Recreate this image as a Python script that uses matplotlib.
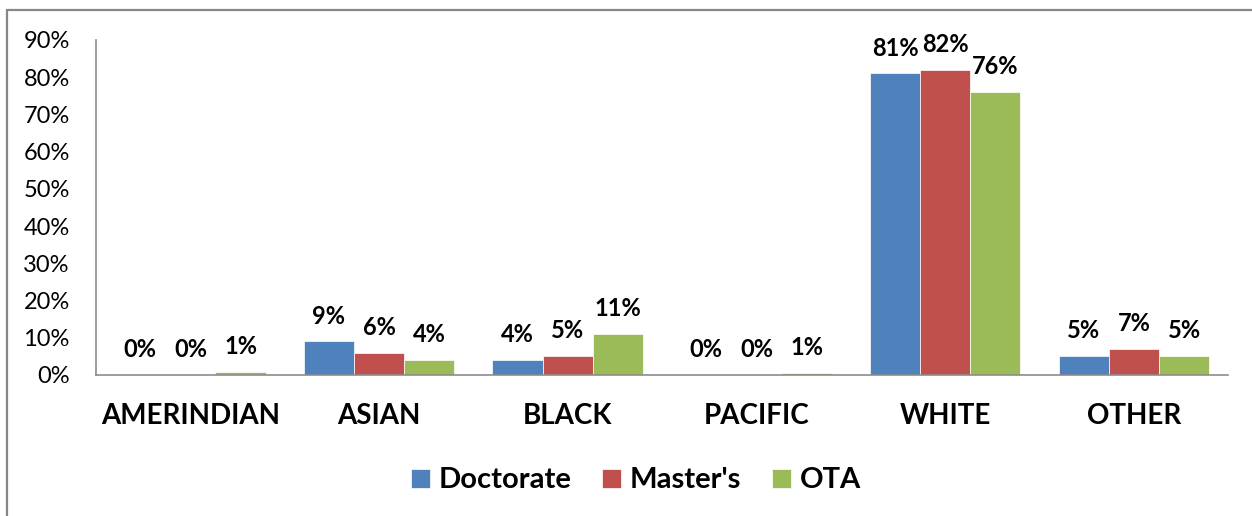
import matplotlib
matplotlib.use("Agg")
import matplotlib.pyplot as plt
import numpy as np
from matplotlib.patches import Rectangle
from matplotlib.ticker import FuncFormatter

# data (percent)
categories = ['AMERINDIAN', 'ASIAN', 'BLACK', 'PACIFIC', 'WHITE', 'OTHER']
doctorate = [0, 9, 4, 0, 81, 5]
masters = [0, 6, 5, 0, 82, 7]
ota = [0.8, 4, 11, 0.6, 76, 5]
series_names = ['Doctorate', "Master's", 'OTA']

colors = ['#4F81BD', '#C0504D', '#9BBB59']
plt.rcParams['font.family'] = ['Lato', 'DejaVu Sans']

fig = plt.figure(figsize=(12.52, 5.16), dpi=100)
ax = fig.add_axes([0.0767, 0.2733, 0.9043, 0.6492])

# gray frame around the chart area
fig.patches.append(Rectangle((7 / 1252, -0.05), 1.2, 1 - 9.5 / 516 + 0.05,
                             transform=fig.transFigure, fill=False,
                             edgecolor='#878787', lw=1.6))

x = np.arange(len(categories))
w = 0.266
for i, (vals, name) in enumerate(zip([doctorate, masters, ota], series_names)):
    bars = ax.bar(x + (i - 1) * w, vals, w, color=colors[i], label=name,
                  edgecolor='white', linewidth=0.5)
    for b, v in zip(bars, vals):
        ax.annotate('%.0f%%' % v, (b.get_x() + b.get_width() / 2, b.get_height()),
                    xytext=(0, 10), textcoords='offset points',
                    ha='center', va='bottom', fontsize=17, fontweight='bold')

ax.set_xlim(-0.5, 5.5)
ax.set_ylim(0, 90)
ax.set_yticks(np.arange(0, 91, 10))
ax.yaxis.set_major_formatter(FuncFormatter(lambda v, p: '%d%%' % v))
ax.set_xticks(x)
ax.set_xticklabels(categories, fontsize=20, fontweight='bold')
ax.tick_params(axis='x', length=0, pad=20)
ax.tick_params(axis='y', length=0, pad=19, labelsize=17)

for s in ['top', 'right']:
    ax.spines[s].set_visible(False)
for s in ['left', 'bottom']:
    ax.spines[s].set_color('#8c8c8c')
    ax.spines[s].set_linewidth(1.2)

leg = ax.legend(loc='center', bbox_to_anchor=(0.477, -0.315), ncol=3, frameon=False,
                handlelength=0.65, handleheight=0.65, handletextpad=0.3,
                columnspacing=1.05, prop={'size': 21, 'weight': 'bold'})

fig.savefig('out.png', dpi=100)
